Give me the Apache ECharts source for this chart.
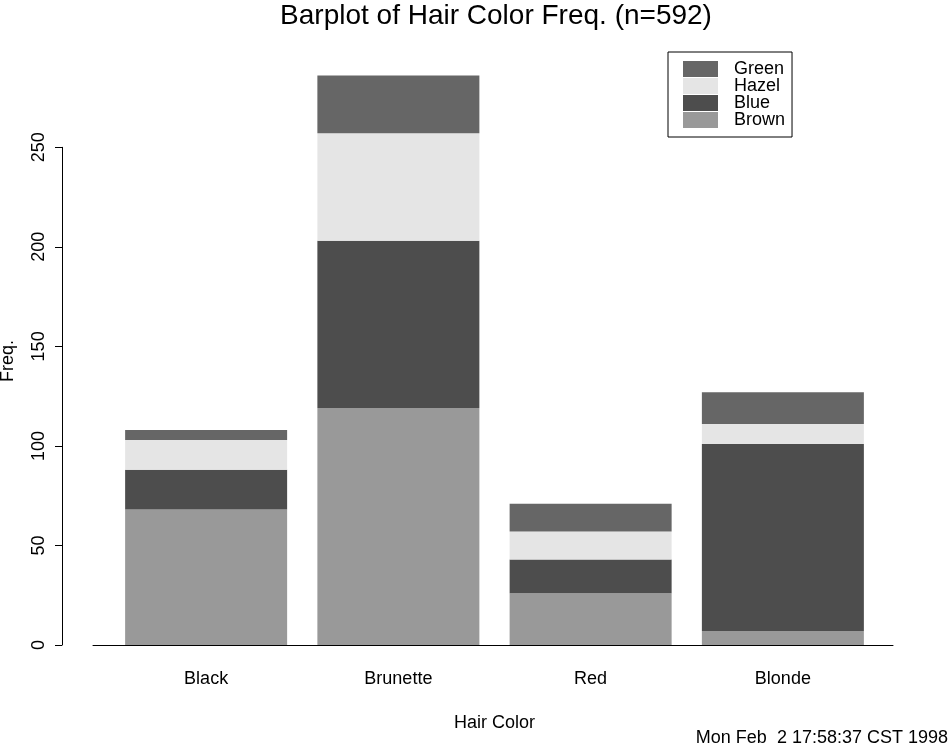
<!DOCTYPE html>
<html>
<head>
<meta charset="utf-8">
<script src="https://cdn.jsdelivr.net/npm/echarts@6/dist/echarts.min.js"></script>
<style>
html,body{margin:0;padding:0;background:#fff;}
#chart{width:949px;height:746px;}
</style>
</head>
<body>
<div id="chart"></div>
<script>
var categories = ['Black', 'Brunette', 'Red', 'Blonde'];
var brown = [68, 119, 26, 7];
var blue = [20, 84, 17, 94];
var hazel = [15, 54, 14, 10];
var green = [5, 29, 14, 16];
var yTicks = [0, 50, 100, 150, 200, 250];
var titleText = 'Barplot of Hair Color Freq. (n=592)';
var footerText = 'Mon Feb  2 17:58:37 CST 1998';

var FONT = '"Liberation Sans", Arial, Helvetica, sans-serif';
var chart = echarts.init(document.getElementById('chart'), null, {renderer: 'canvas'});

function barSeries(name, data, color) {
  return {
    name: name, type: 'bar', stack: 'eye', data: data,
    xAxisIndex: 0, yAxisIndex: 0,
    barWidth: 162, clip: false,
    itemStyle: {color: color, borderWidth: 0},
    emphasis: {disabled: true},
    animation: false
  };
}

var option = {
  backgroundColor: '#ffffff',
  animation: false,
  textStyle: {fontFamily: FONT, color: '#000'},
  grid: [
    {left: 110, right: 70, top: 47.7, bottom: 101, containLabel: false},
    {left: 62, right: 56, top: 147.3, bottom: 101, containLabel: false},
    {left: 93, right: 56, top: 147.3, bottom: 101, containLabel: false}
  ],
  xAxis: [
    {
      type: 'category', gridIndex: 0, data: categories,
      axisLine: {show: false}, axisTick: {show: false},
      axisLabel: {fontSize: 18, color: '#000', fontFamily: FONT, margin: 25},
      name: 'Hair Color', nameLocation: 'middle', nameGap: 69,
      nameTextStyle: {fontSize: 18, color: '#000', fontFamily: FONT},
      splitLine: {show: false}
    },
    {type: 'value', gridIndex: 1, min: 0, max: 1, show: false},
    {
      type: 'value', gridIndex: 2, min: 0, max: 1,
      axisLine: {show: true, lineStyle: {color: '#000', width: 1}},
      axisTick: {show: false}, axisLabel: {show: false}, splitLine: {show: false}
    }
  ],
  yAxis: [
    {type: 'value', gridIndex: 0, min: 0, max: 300, show: false, splitLine: {show: false}},
    {
      type: 'value', gridIndex: 1, min: yTicks[0], max: yTicks[yTicks.length - 1], interval: 50,
      axisLine: {show: true, lineStyle: {color: '#000', width: 1}},
      axisTick: {show: true, length: 7, lineStyle: {color: '#000', width: 1}},
      axisLabel: {rotate: 90, fontSize: 18, color: '#000', fontFamily: FONT, margin: 14},
      splitLine: {show: false}
    },
    {type: 'value', gridIndex: 2, min: 0, max: 1, show: false}
  ],
  legend: {
    data: ['Green', 'Hazel', 'Blue', 'Brown'],
    orient: 'vertical', left: 668, top: 52,
    itemWidth: 35, itemHeight: 16, itemGap: -1,
    padding: [8, 7, 8, 15],
    borderColor: '#000', borderWidth: 1, borderRadius: 0,
    backgroundColor: '#fff',
    icon: 'rect', selectedMode: false,
    textStyle: {fontSize: 18, color: '#000', fontFamily: FONT, padding: [0, 0, 0, 11]}
  },
  graphic: [
    {type: 'text', x: 496, y: 16, style: {text: titleText, font: '28px ' + FONT, fill: '#000', align: 'center', verticalAlign: 'middle'}},
    {type: 'text', x: 8, y: 361, rotation: Math.PI / 2, style: {text: 'Freq.', font: '18px ' + FONT, fill: '#000', align: 'center', verticalAlign: 'middle'}},
    {type: 'text', x: 948, y: 738, style: {text: footerText, font: '18px ' + FONT, fill: '#000', align: 'right', verticalAlign: 'middle'}}
  ],
  series: [
    barSeries('Brown', brown, '#999999'),
    barSeries('Blue', blue, '#4d4d4d'),
    barSeries('Hazel', hazel, '#e5e5e5'),
    barSeries('Green', green, '#666666')
  ]
};
chart.setOption(option);
</script>
</body>
</html>
